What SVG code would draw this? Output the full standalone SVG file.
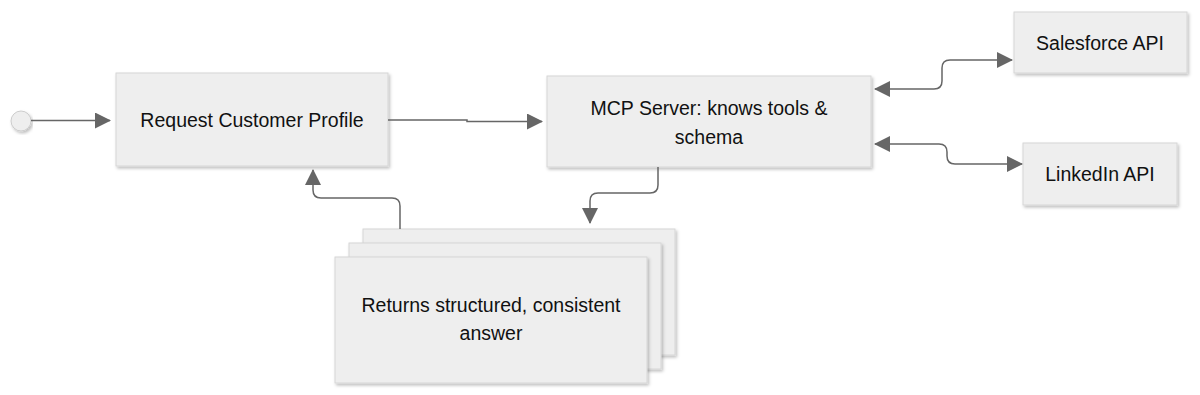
<svg xmlns="http://www.w3.org/2000/svg" width="1200" height="395" viewBox="0 0 1200 395">
<defs>
<filter id="sh" x="-10%" y="-10%" width="120%" height="130%">
<feDropShadow dx="1.5" dy="2" stdDeviation="1.8" flood-color="#000" flood-opacity="0.25"/>
</filter>
<marker id="ah" viewBox="0 0 16 16" refX="15" refY="8" markerWidth="16" markerHeight="16" markerUnits="userSpaceOnUse" orient="auto-start-reverse">
<path d="M0,0 L16,8 L0,16 Z" fill="#666"/>
</marker>
<style>
.box{fill:#eeeeee;stroke:#d6d6d6;stroke-width:1;filter:url(#sh)}
.t{font-family:"Liberation Sans",Arial,sans-serif;font-size:19.5px;fill:#111;text-anchor:middle}
.c{fill:none;stroke:#666;stroke-width:1.5}
</style>
</defs>
<rect width="1200" height="395" fill="#fff"/>
<g id="start">
<circle cx="21" cy="121" r="10" fill="#eeeeee" stroke="#cccccc" stroke-width="1" filter="url(#sh)"/>
</g>
<g id="request">
<rect class="box" x="116" y="73" width="272" height="93"/>
<text class="t" x="252" y="127">Request Customer Profile</text>
</g>
<g id="mcp">
<rect class="box" x="547" y="76" width="324" height="91"/>
<text class="t" x="709" y="115">MCP Server: knows tools &amp;</text>
<text class="t" x="709" y="144">schema</text>
</g>
<g id="salesforce">
<rect class="box" x="1014" y="12" width="173" height="61"/>
<text class="t" x="1100" y="50">Salesforce API</text>
</g>
<g id="linkedin">
<rect class="box" x="1023" y="143" width="154" height="62"/>
<text class="t" x="1100" y="181">LinkedIn API</text>
</g>
<g id="returns">
<rect class="box" x="363" y="229" width="312" height="126"/>
<rect class="box" x="349" y="243" width="312" height="126"/>
<rect class="box" x="335" y="257" width="312" height="126"/>
<text class="t" x="491" y="312">Returns structured, consistent</text>
<text class="t" x="491" y="340">answer</text>
</g>
<g id="connectors">
<path class="c" d="M31,120.5 L110,120.5" marker-end="url(#ah)"/>
<path class="c" d="M388,120 L467,120 L467,121.5 L542,121.5" marker-end="url(#ah)"/>
<path class="c" d="M875,89 L934,89 Q942,89 942,81 L942,68 Q942,60 950,60 L1012,60" marker-start="url(#ah)" marker-end="url(#ah)"/>
<path class="c" d="M875,144 L939,144 Q947,144 947,152 L947,156 Q947,164 955,164 L1022,164" marker-start="url(#ah)" marker-end="url(#ah)"/>
<path class="c" d="M658,167 L658,185 Q658,193 650,193 L598,193 Q590,193 590,201 L590,223" marker-end="url(#ah)"/>
<path class="c" d="M400,229 L400,206 Q400,198 392,198 L321,198 Q313,198 313,190 L313,170" marker-end="url(#ah)"/>
</g>
</svg>
